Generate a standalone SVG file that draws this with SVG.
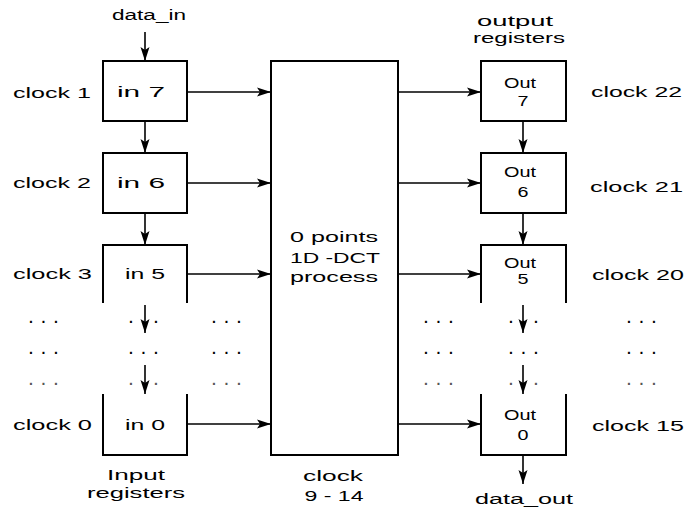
<svg xmlns="http://www.w3.org/2000/svg" width="685" height="510" viewBox="0 0 685 510">
<style>
text{font-family:"Liberation Sans",Arial,sans-serif;font-size:14px;fill:#000}
.box{fill:none;stroke:#000;stroke-width:2}
.ln{fill:none;stroke:#000;stroke-width:1.6}
.dots{font-weight:bold;font-size:15px}
.dl{fill:#555}
</style>
<defs>
<marker id="ah" viewBox="0 0 14 10" refX="14" refY="5" markerWidth="14" markerHeight="10" markerUnits="userSpaceOnUse" orient="auto">
<path d="M0,0.5 L14,5 L0,9.5 L3,5 z" fill="#000"/>
</marker>
</defs>
<rect width="685" height="510" fill="#fff"/>

<g id="in7"><rect class="box" x="103" y="61" width="84" height="60"/><text x="141" y="97" text-anchor="middle" textLength="48" lengthAdjust="spacingAndGlyphs">in 7</text></g>
<g id="in6"><rect class="box" x="103" y="153" width="84" height="60"/><text x="141" y="188" text-anchor="middle" textLength="48" lengthAdjust="spacingAndGlyphs">in 6</text></g>
<g id="in5"><path class="box" d="M103,303 V245 H187 V303"/><text x="145" y="279" text-anchor="middle" textLength="40" lengthAdjust="spacingAndGlyphs">in 5</text></g>
<g id="in0"><path class="box" d="M103,394 V455 H187 V394"/><text x="145" y="430" text-anchor="middle" textLength="40" lengthAdjust="spacingAndGlyphs">in 0</text></g>

<g id="dct"><rect class="box" x="271" y="61" width="127" height="394"/>
<text x="334" y="242" text-anchor="middle" textLength="88" lengthAdjust="spacingAndGlyphs">0 points</text>
<text x="335" y="263" text-anchor="middle" textLength="90" lengthAdjust="spacingAndGlyphs">1D -DCT</text>
<text x="334" y="282" text-anchor="middle" textLength="88" lengthAdjust="spacingAndGlyphs">process</text></g>

<g id="out7"><rect class="box" x="481" y="61" width="85" height="60"/><text x="520" y="88" text-anchor="middle" textLength="32" lengthAdjust="spacingAndGlyphs">Out</text><text x="523" y="106" text-anchor="middle" textLength="11" lengthAdjust="spacingAndGlyphs">7</text></g>
<g id="out6"><rect class="box" x="481" y="153" width="85" height="60"/><text x="520" y="177" text-anchor="middle" textLength="32" lengthAdjust="spacingAndGlyphs">Out</text><text x="523" y="197" text-anchor="middle" textLength="11" lengthAdjust="spacingAndGlyphs">6</text></g>
<g id="out5"><path class="box" d="M481,303 V245 H566 V303"/><text x="520" y="268" text-anchor="middle" textLength="32" lengthAdjust="spacingAndGlyphs">Out</text><text x="523" y="284" text-anchor="middle" textLength="11" lengthAdjust="spacingAndGlyphs">5</text></g>
<g id="out0"><path class="box" d="M481,394 V455 H566 V394"/><text x="520" y="420" text-anchor="middle" textLength="32" lengthAdjust="spacingAndGlyphs">Out</text><text x="523" y="440" text-anchor="middle" textLength="11" lengthAdjust="spacingAndGlyphs">0</text></g>

<g id="labels">
<text x="149" y="20" text-anchor="middle" textLength="74" lengthAdjust="spacingAndGlyphs">data_in</text>
<text x="13" y="98" textLength="78" lengthAdjust="spacingAndGlyphs">clock 1</text>
<text x="13" y="188" textLength="78" lengthAdjust="spacingAndGlyphs">clock 2</text>
<text x="13" y="279" textLength="79" lengthAdjust="spacingAndGlyphs">clock 3</text>
<text x="13" y="430" textLength="79" lengthAdjust="spacingAndGlyphs">clock 0</text>
<text x="591" y="97" textLength="91" lengthAdjust="spacingAndGlyphs">clock 22</text>
<text x="590" y="192" textLength="93" lengthAdjust="spacingAndGlyphs">clock 21</text>
<text x="592" y="280" textLength="92" lengthAdjust="spacingAndGlyphs">clock 20</text>
<text x="592" y="431" textLength="92" lengthAdjust="spacingAndGlyphs">clock 15</text>
<text x="515" y="26" text-anchor="middle" textLength="76" lengthAdjust="spacingAndGlyphs">output</text>
<text x="519" y="43" text-anchor="middle" textLength="92" lengthAdjust="spacingAndGlyphs">registers</text>
<text x="136" y="480" text-anchor="middle" textLength="58" lengthAdjust="spacingAndGlyphs">Input</text>
<text x="136" y="498" text-anchor="middle" textLength="98" lengthAdjust="spacingAndGlyphs">registers</text>
<text x="333" y="481" text-anchor="middle" textLength="60" lengthAdjust="spacingAndGlyphs">clock</text>
<text x="334" y="501" text-anchor="middle" textLength="59" lengthAdjust="spacingAndGlyphs">9 - 14</text>
<text x="524" y="504" text-anchor="middle" textLength="98" lengthAdjust="spacingAndGlyphs">data_out</text>
</g>

<g id="dots" class="dots">
<text x="29" y="323" textLength="29">...</text>
<text x="129" y="323" textLength="29">...</text>
<text x="212" y="323" textLength="29">...</text>
<text x="424" y="323" textLength="29">...</text>
<text x="509" y="323" textLength="29">...</text>
<text x="627" y="323" textLength="29">...</text>
<text x="29" y="354" textLength="29">...</text>
<text x="129" y="354" textLength="29">...</text>
<text x="212" y="354" textLength="29">...</text>
<text x="424" y="354" textLength="29">...</text>
<text x="509" y="354" textLength="29">...</text>
<text x="627" y="354" textLength="29">...</text>
<text class="dl" x="29" y="385" textLength="29">...</text>
<text class="dl" x="129" y="385" textLength="29">...</text>
<text class="dl" x="212" y="385" textLength="29">...</text>
<text class="dl" x="424" y="385" textLength="29">...</text>
<text class="dl" x="509" y="385" textLength="29">...</text>
<text class="dl" x="627" y="385" textLength="29">...</text>
</g>

<g id="connectors" class="ln" marker-end="url(#ah)">
<path d="M145,32 V61"/>
<path d="M145,121 V153"/>
<path d="M145,213 V245"/>
<path d="M145,305 V333"/>
<path d="M145,365 V394"/>
<path d="M523,121 V153"/>
<path d="M523,213 V245"/>
<path d="M523,305 V333"/>
<path d="M523,365 V394"/>
<path d="M523,455 V484"/>
<path d="M187,92 H271"/>
<path d="M187,183 H271"/>
<path d="M187,274 H271"/>
<path d="M187,424 H271"/>
<path d="M398,92 H481"/>
<path d="M398,183 H481"/>
<path d="M398,274 H481"/>
<path d="M398,424 H481"/>
</g>
</svg>
